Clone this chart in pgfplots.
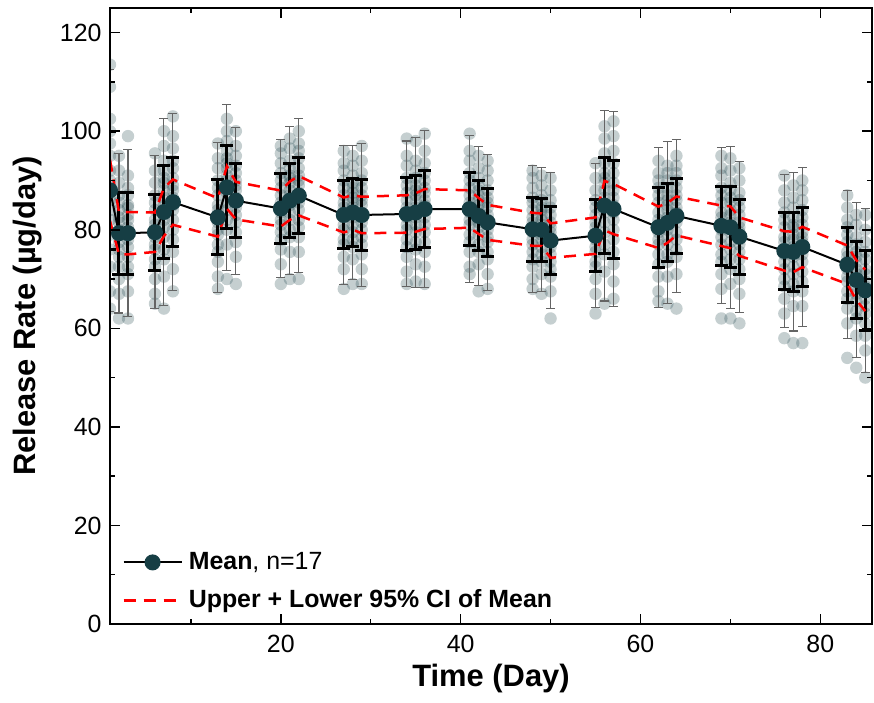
\documentclass[border=0pt]{standalone}
\usepackage{fontspec}
\setmainfont{Liberation Sans}
\usepackage{pgfplots}
\usepackage{pgfplotstable}
\pgfplotsset{compat=1.18}
\definecolor{meancol}{HTML}{163E44}
\definecolor{rangecol}{HTML}{646464}

% day, mean, SD, whisker half-length, upper / lower 95% CI of mean
\pgfplotstableread{
d  m    sd    wh    cu    cl
1  88.0 12.0  24.5  94.2  81.8
2  79.3 8.3   16.2  83.6  75.0
3  79.3 8.35  16.9  83.6  75.0
6  79.5 7.75  15.5  83.5  75.5
7  83.6 9.5   19.0  88.5  78.7
8  85.6 9.0   17.9  90.2  81.0
13 82.5 7.6   15.2  86.4  78.6
14 88.6 8.4   16.85 92.9  84.3
15 85.9 7.45  14.9  89.7  82.1
20 84.3 7.1   14.0  87.95 80.65
21 85.9 7.55  15.0  89.8  82.0
22 86.9 7.75  15.65 90.9  82.9
27 83.0 6.9   14.05 86.55 79.45
28 83.5 6.85  13.6  87.0  80.0
29 83.0 7.2   14.55 86.7  79.3
34 83.2 7.4   14.8  87.0  79.4
35 83.5 7.6   15.25 87.4  79.6
36 84.2 7.9   15.85 88.25 80.15
41 84.2 7.45  14.85 88.0  80.4
42 82.8 7.1   14.1  86.45 79.15
43 81.5 6.9   13.75 85.05 77.95
48 80.1 6.5   12.85 83.45 76.75
49 80.0 6.4   12.6  83.3  76.7
50 77.8 6.85  13.85 81.3  74.3
55 78.8 7.25  14.6  82.5  75.1
56 84.9 9.7   19.35 89.9  79.9
57 84.2 9.95  19.8  89.3  79.1
62 80.5 8.15  16.25 84.7  76.3
63 81.4 7.9   16.45 85.45 77.35
64 82.8 7.7   15.45 86.75 78.85
69 80.8 8.0   15.85 84.9  76.7
70 80.5 8.25  16.45 84.75 76.25
71 78.6 7.6   15.3  82.5  74.7
76 75.7 7.8   15.6  79.7  71.7
77 75.5 8.0   16.05 79.6  71.4
78 76.5 8.0   16.1  80.6  72.4
83 72.9 7.6   15.0  76.8  69.0
84 69.8 7.9   15.8  73.85 65.75
85 67.7 8.15  16.7  71.9  63.5
}\summary

% the 17 individual values per day
\pgfplotstableread{
d v1 v2 v3 v4 v5 v6 v7 v8 v9 v10 v11 v12 v13 v14 v15 v16 v17
1 64 67.5 72.5 76 79 82 84 86 88 90 92 95 97.5 100 102.5 109 113.5
2 62 67 70 72.5 74.5 76 77.5 79 80 81.5 82.5 84 85.5 87 89.5 92 95
3 62 67.5 71 72.5 74.5 76.5 78 79.5 80.5 82 83 84.5 85 87 88.5 91 99
6 65 67 70 72.5 74 76 77 78.5 80 81 82 84 85.5 87 89.5 92 95.5
7 64 70.5 74 76 78.5 80.5 82 83.5 85 86.5 88 89.5 90.5 92 94 97 100
8 67.5 72 75.5 78 80 82 84 85 86.5 88 89 90.5 92.5 94 96.5 99 103
13 68 70.5 73.5 75.5 77 79 80 81.5 83 84 85 87 88.5 90 92.5 94.5 97.5
14 70 77 80 82 84 85.5 87.5 88.5 90 91 92.5 93.5 94.5 96 98 100 102.5
15 69 74.5 77.5 79.5 81.5 83 84.5 85.5 86.5 88 89 90 91.5 93 95 97 100
20 69 73 76 78 79.5 81 82 83.5 84.5 85.5 87 88.5 90 91.5 93.5 95.5 97
21 70 75.5 78.5 80 82 83.5 85 86 87 88 89.5 90.5 91 92.5 94 96.5 98.5
22 70 75.5 78.5 80.5 82 84 85.5 86.5 87.5 89 90 91 92.5 94.5 96 97.5 100
27 68 72 74.5 77 78 80 81 82.5 83.5 84.5 85.5 87 88.5 90 92 93.5 96
28 69 74 76.5 78 79.5 81 82.5 83.5 84.5 85.5 86.5 87.5 88.5 89.5 91 93 95
29 69 72 75 77 78.5 80 81.5 82.5 83.5 85 86 87 88.5 90 91.5 94 97
34 69 71.5 74.5 76.5 78 80 81 82.5 83.5 84.5 86 87.5 89 90.5 93 95 98.5
35 69.5 73 76 77.5 79.5 81 82.5 83.5 84.5 86 87 88 89 90.5 92 94 98
36 69 72.5 75.5 77.5 79.5 81 82.5 84 85 86 87.5 88.5 90 91.5 93.5 96 99.5
41 71 72.5 75.5 77.5 79 81 82 83.5 84.5 85.5 87 88.5 90 91.5 94 96 99.5
42 67.5 73 75.5 77 79 80.5 81.5 83 84 85 86 87 88 89 90.5 92.5 95
43 68 71 74 75.5 77.5 78.5 80 81 82 83 84.5 85.5 86.5 88 90 92 94
48 68 70 72.5 74 75.5 77 78 79.5 80.5 81.5 82.5 84 85.5 86.5 88.5 90.5 92
49 67 71 73.5 75 76.5 78 79 80 81 82 83 84 84.5 86 87 89 91
50 62 67.5 70.5 72 73.5 75 76.5 77.5 78.5 79.5 80.5 81.5 83 84.5 86 88 90.5
55 63 67 70 72.5 73.5 75.5 76.5 78 79 80.5 81.5 83 84.5 86 88 90.5 93.5
56 65 71.5 75 77 79.5 81.5 83.5 85 86.5 88 89.5 90.5 91.5 93.5 95.5 98.5 101
57 66 69.5 73 75.5 78 80 82 83.5 85 86.5 88 89.5 91.5 93.5 96 99 102
62 65.5 67.5 70.5 73 75 77 78 79.5 81 82 83.5 85.5 87 88.5 90 91.5 94
63 65 70.5 73.5 75 77 78.5 80 81.5 82.5 84 85 86 87 88.5 90 91.5 93
64 64 71 74.5 76 78 79.5 81.5 82.5 83.5 84.5 86 87 88.5 90 91.5 93 95
69 62 68 71 73.5 75 77 78.5 80 81 82.5 83.5 85.5 87 88.5 91 92.5 95
70 62 69 72 74 76 77.5 79.5 80.5 81.5 83 84 85.5 86.5 88 89.5 92 94.5
71 61 67 70 72 74 75.5 77 78 79.5 80.5 81.5 83 84.5 86 87.5 90 92.5
76 58 63 66 68.5 70 72 73.5 75 76 77.5 78.5 80.5 82 83.5 85.5 88 91
77 57 64.5 67.5 69 71 72.5 74.5 75.5 76.5 78 79 80.5 81 82.5 84.5 86.5 89
78 57 64.5 67.5 69.5 71.5 73.5 75 76 77.5 78.5 79.5 81 82.5 84 86 88 90
83 54 61 64 66 67.5 69.5 70.5 72 73.5 74.5 75.5 77.5 79 80.5 82 84.5 87
84 52 58.5 62 63.5 65.5 67 68.5 70 71 72 73.5 74.5 75.5 77 78.5 81 83
85 50 55.5 58.5 61 63 64.5 66 67.5 68.5 69.5 71 72 74 75.5 77.5 80 83
}\points

\begin{document}
\begin{tikzpicture}
\begin{axis}[
  name=ax,
  scale only axis,
  width=762bp, height=616bp,
  xmin=1, xmax=85.75, ymin=0, ymax=125,
  xtick={20,40,60,80}, minor xtick={10,30,50,70},
  ytick={0,20,...,120}, minor ytick={10,30,...,110},
  tick align=inside,
  major tick length=10bp, minor tick length=5bp,
  tick style={black, line width=1.5bp},
  axis line style={line width=2bp},
  axis on top,
  clip marker paths=true,
  /pgf/number format/assume math mode=true,
  ticklabel style={font=\fontsize{25}{30}\selectfont},
  xticklabel style={yshift=-8bp},
  yticklabel style={xshift=-5bp},
  xlabel={Time (Day)},
  ylabel={Release Rate (µg/day)},
  label style={font=\bfseries\fontsize{31}{36}\selectfont},
  x label style={at={(axis description cs:0.5,-0.0877)}, anchor=center},
  y label style={at={(axis description cs:-0.1076,0.5)}, anchor=center},
  legend image code/.code={\draw[mark repeat=2,mark phase=2,#1] plot coordinates {(0bp,0bp) (29bp,0bp) (58bp,0bp)};},
  legend style={at={(axis description cs:0.012,0.012)}, anchor=south west,
    draw=none, fill=none, font=\fontsize{25}{30}\selectfont, row sep=10bp,
    nodes={inner sep=2bp, text height=19bp, text depth=5bp},
    /tikz/every odd column/.append style={column sep=4bp}},
  legend cell align=left,
]
\addlegendimage{black, line width=2bp, mark=*, mark size=7bp, mark options={fill=meancol, draw=meancol}}
\addlegendentry{\textbf{Mean}, n=17}
\addlegendimage{red, line width=2.5bp, dash pattern=on 12bp off 8bp}
\addlegendentry{\textbf{Upper + Lower 95\% CI of Mean}}

\pgfplotsinvokeforeach{1,...,17}{
  \addplot[only marks, mark=*, mark size=6.2bp, forget plot,
    mark options={fill=meancol, draw=meancol, fill opacity=0.25, draw opacity=0}]
    table[x=d, y=v#1] {\points};
}

\addplot[only marks, mark=none, forget plot,
  error bars/.cd, y dir=both, y explicit,
  error bar style={line width=1.1bp, rangecol},
  error mark options={rotate=90, line width=1.1bp, rangecol, mark size=4.5bp}]
  table[x=d, y=m, y error=wh] {\summary};

\addplot[only marks, mark=none, forget plot,
  error bars/.cd, y dir=both, y explicit,
  error bar style={line width=3bp, black},
  error mark options={rotate=90, line width=3bp, black, mark size=6.5bp}]
  table[x=d, y=m, y error=sd] {\summary};

\addplot[red, line width=2.5bp, dash pattern=on 12bp off 8bp, forget plot] table[x=d, y=cu] {\summary};
\addplot[red, line width=2.5bp, dash pattern=on 12bp off 8bp, forget plot] table[x=d, y=cl] {\summary};

\addplot[black, line width=2bp, mark=*, mark size=7bp, forget plot,
  mark options={fill=meancol, draw=meancol}]
  table[x=d, y=m] {\summary};
\end{axis}
\pgfresetboundingbox
\path (ax.south west) ++(-110bp,-79bp) rectangle ([xshift=2bp,yshift=8bp]ax.north east);
\end{tikzpicture}
\end{document}
